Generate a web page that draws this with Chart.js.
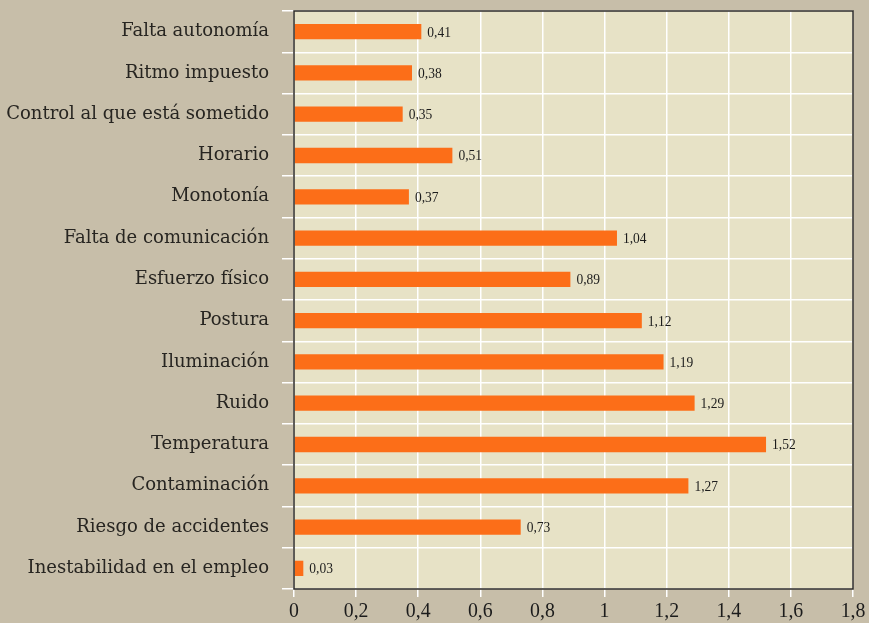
<!DOCTYPE html>
<html>
<head>
<meta charset="utf-8">
<script src="https://cdn.jsdelivr.net/npm/chart.js@4/dist/chart.umd.min.js"></script>
<style>
  html, body { margin: 0; padding: 0; background: #c7bea9; }
  #wrap { width: 869px; height: 623px; }
</style>
</head>
<body>
<div id="wrap"><canvas id="myChart" width="869" height="623"></canvas></div>
<script>
const factores = [
    'Falta autonomía',
    'Ritmo impuesto',
    'Control al que está sometido',
    'Horario',
    'Monotonía',
    'Falta de comunicación',
    'Esfuerzo físico',
    'Postura',
    'Iluminación',
    'Ruido',
    'Temperatura',
    'Contaminación',
    'Riesgo de accidentes',
    'Inestabilidad en el empleo'
];
const valores = [0.41, 0.38, 0.35, 0.51, 0.37, 1.04, 0.89, 1.12, 1.19, 1.29, 1.52, 1.27, 0.73, 0.03];
const ejeMax = 1.8;
const ejePaso = 0.2;

const coma = (v) => String(Math.round(v * 100) / 100).replace('.', ',');

// fondo claro del área de trazado y marco oscuro
const areaPlugin = {
    id: 'area',
    beforeDraw(chart) {
        const { ctx, chartArea: a } = chart;
        ctx.save();
        ctx.fillStyle = '#e7e2c6';
        ctx.fillRect(a.left, a.top, a.right - a.left, a.bottom - a.top);
        ctx.restore();
    },
    afterDraw(chart) {
        const { ctx, chartArea: a } = chart;
        ctx.save();
        ctx.strokeStyle = '#2b2924';
        ctx.lineWidth = 1.5;
        ctx.strokeRect(a.left, a.top, a.right - a.left, a.bottom - a.top);
        ctx.restore();
    }
};

// etiquetas del eje x en letra algo estrecha
const ejeXPlugin = {
    id: 'ejeX',
    afterDraw(chart) {
        const { ctx } = chart;
        const x = chart.scales.x;
        ctx.save();
        ctx.font = '22px "Liberation Serif", serif';
        ctx.fillStyle = '#1c1c1c';
        ctx.textAlign = 'center';
        ctx.textBaseline = 'middle';
        x.ticks.forEach((t) => {
            const px = x.getPixelForValue(t.value);
            ctx.save();
            ctx.translate(px, 611);
            ctx.scale(0.9, 1);
            ctx.fillText(coma(t.value), 0, 0);
            ctx.restore();
        });
        ctx.restore();
    }
};

// valor al final de cada barra
const valoresPlugin = {
    id: 'valores',
    afterDatasetsDraw(chart) {
        const { ctx } = chart;
        const meta = chart.getDatasetMeta(0);
        ctx.save();
        ctx.font = '15px "Liberation Serif", serif';
        ctx.fillStyle = '#1c1c1c';
        ctx.textAlign = 'left';
        ctx.textBaseline = 'middle';
        meta.data.forEach((bar, i) => {
            ctx.save();
            ctx.translate(bar.x + 6, bar.y + 1);
            ctx.scale(0.9, 1);
            ctx.fillText(coma(valores[i]), 0, 0);
            ctx.restore();
        });
        ctx.restore();
    }
};

const ctx = document.getElementById('myChart').getContext('2d');
new Chart(ctx, {
    type: 'bar',
    data: {
        labels: factores,
        datasets: [{
            data: valores,
            backgroundColor: '#fc6e18',
            borderWidth: 0,
            categoryPercentage: 1,
            barPercentage: 0.37
        }]
    },
    options: {
        indexAxis: 'y',
        responsive: false,
        animation: false,
        layout: { padding: { top: 11, right: 16, left: 0, bottom: 0 } },
        plugins: {
            legend: { display: false },
            tooltip: { enabled: false }
        },
        scales: {
            x: {
                min: 0,
                max: ejeMax,
                ticks: { stepSize: ejePaso, display: false },
                grid: { color: '#ffffff', lineWidth: 1.5, tickLength: 8 },
                border: { display: false },
                afterFit: (scale) => {
                    scale.height = 34;
                    scale.paddingLeft = 0;
                    scale.paddingRight = 0;
                }
            },
            y: {
                ticks: {
                    padding: 13,
                    color: '#272521',
                    font: { family: '"DejaVu Serif", serif', size: 18 }
                },
                grid: { color: '#ffffff', lineWidth: 1.5, tickLength: 12 },
                border: { display: false },
                afterFit: (scale) => {
                    scale.width = 294;
                    scale.paddingTop = 0;
                    scale.paddingBottom = 0;
                }
            }
        }
    },
    plugins: [areaPlugin, ejeXPlugin, valoresPlugin]
});
</script>
</body>
</html>
